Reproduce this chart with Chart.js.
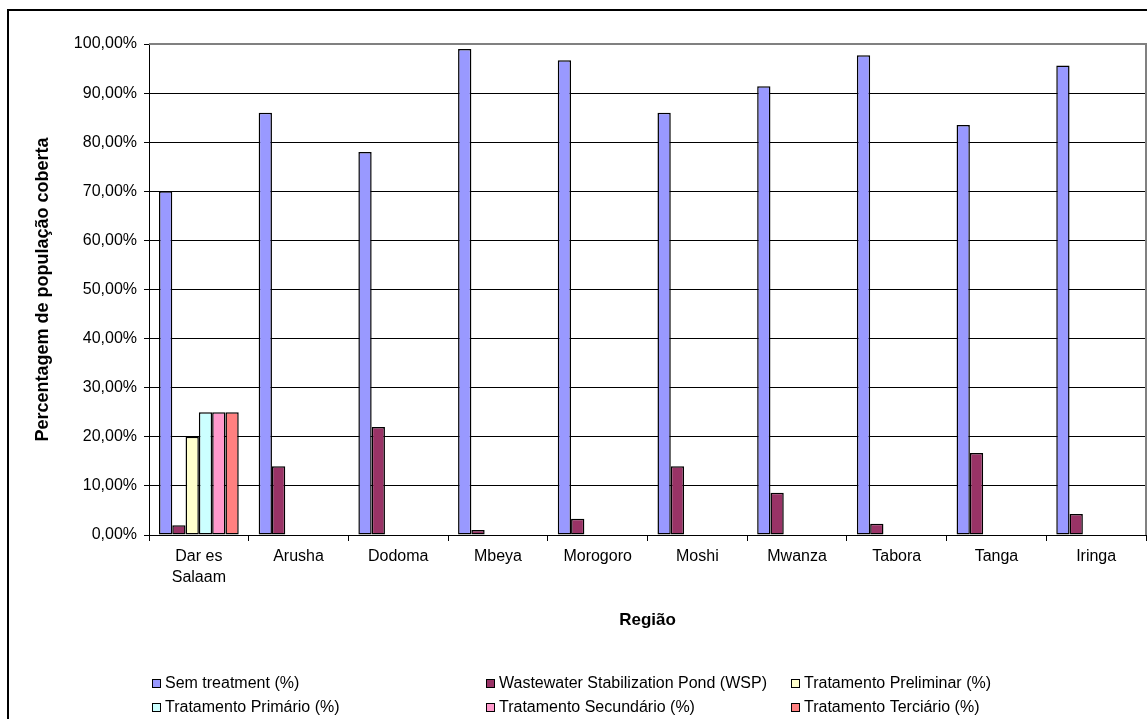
<!DOCTYPE html>
<html>
<head>
<meta charset="utf-8">
<script src="https://cdn.jsdelivr.net/npm/chart.js@4.4.1/dist/chart.umd.min.js"></script>
<style>
  html, body { margin: 0; padding: 0; background: #ffffff; }
  #wrap { width: 1147px; height: 719px; position: relative; }
  canvas { display: block; }
</style>
</head>
<body>
<div id="wrap"><canvas id="chart" width="1147" height="719"></canvas></div>
<script>
// Regions (x categories)
const regions = [["Dar es", "Salaam"], "Arusha", "Dodoma", "Mbeya", "Morogoro", "Moshi", "Mwanza", "Tabora", "Tanga", "Iringa"];

// Share of population covered (%) per treatment type
const semTreatment   = [70, 86, 78, 99, 96.7, 86, 91.4, 97.7, 83.5, 95.6];
const wspPond        = [2, 14, 22, 1, 3.3, 14, 8.6, 2.3, 16.7, 4.3];
const preliminar     = [20, null, null, null, null, null, null, null, null, null];
const primario       = [25, null, null, null, null, null, null, null, null, null];
const secundario     = [25, null, null, null, null, null, null, null, null, null];
const terciario      = [25, null, null, null, null, null, null, null, null, null];

// Series names
const seriesNames = [
  "Sem treatment (%)",
  "Wastewater Stabilization Pond (WSP)",
  "Tratamento Preliminar (%)",
  "Tratamento Primário (%)",
  "Tratamento Secundário (%)",
  "Tratamento Terciário (%)"
];

// y-axis tick values
const yTicks = [0, 10, 20, 30, 40, 50, 60, 70, 80, 90, 100];

const seriesColors = ["#9999FF", "#993366", "#FFFFCC", "#CCFFFF", "#FF99CC", "#FF8080"];
const seriesData = [semTreatment, wspPond, preliminar, primario, secundario, terciario];

const FONT = "'Liberation Sans', Arial, sans-serif";

// Outer frame, plot-area border and the two-row legend
const framePlugin = {
  id: 'frame',
  beforeDraw(chart) {
    const ctx = chart.ctx;
    ctx.save();
    ctx.fillStyle = '#ffffff';
    ctx.fillRect(0, 0, chart.width, chart.height);
    ctx.strokeStyle = '#000000';
    ctx.lineWidth = 2;
    ctx.strokeRect(8, 10, chart.width + 20, chart.height + 20);
    ctx.restore();
  },
  beforeDatasetsDraw(chart) {
    const { ctx, chartArea: a } = chart;
    ctx.save();
    ctx.strokeStyle = '#808080';
    ctx.lineWidth = 2;
    ctx.beginPath();
    ctx.moveTo(a.left, a.top);
    ctx.lineTo(a.right, a.top);
    ctx.lineTo(a.right, a.bottom);
    ctx.stroke();
    ctx.restore();
  },
  afterDraw(chart) {
    const ctx = chart.ctx;
    const cols = [152, 486, 791];
    const rows = [683, 707];
    ctx.save();
    ctx.font = '16px ' + FONT;
    ctx.textBaseline = 'middle';
    ctx.textAlign = 'left';
    chart.data.datasets.forEach((ds, i) => {
      const x = cols[i % 3];
      const y = rows[Math.floor(i / 3)];
      ctx.fillStyle = ds.backgroundColor;
      ctx.fillRect(x, y - 4, 9, 9);
      ctx.strokeStyle = '#000000';
      ctx.lineWidth = 1;
      ctx.strokeRect(x + 0.5, y - 3.5, 8, 8);
      ctx.fillStyle = '#000000';
      ctx.fillText(ds.label, x + 13, y + 1);
    });
    ctx.restore();
  }
};

new Chart(document.getElementById('chart'), {
  type: 'bar',
  data: {
    labels: regions,
    datasets: seriesData.map((d, i) => ({
      label: seriesNames[i],
      data: d,
      backgroundColor: seriesColors[i],
      borderColor: '#000000',
      borderWidth: 1.5,
      borderSkipped: false,
      categoryPercentage: 0.8,
      barPercentage: 1.0
    }))
  },
  options: {
    responsive: false,
    animation: false,
    devicePixelRatio: 1,
    layout: { padding: { left: 0, top: 44, right: 1, bottom: 0 } },
    plugins: {
      legend: { display: false },
      tooltip: { enabled: false }
    },
    scales: {
      x: {
        offset: true,
        grid: {
          display: true,
          offset: true,
          drawOnChartArea: false,
          drawTicks: true,
          tickLength: 6,
          color: '#000000',
          lineWidth: 1
        },
        border: { display: true, color: '#000000', width: 1 },
        ticks: {
          color: '#000000',
          font: { family: FONT, size: 16, lineHeight: 1.3 },
          padding: 5,
          maxRotation: 0,
          autoSkip: false
        },
        title: {
          display: true,
          text: 'Região',
          color: '#000000',
          font: { family: FONT, size: 17, weight: 'bold', lineHeight: 1.2 },
          padding: { top: 0, bottom: 88 }
        },
        afterFit(scale) { scale.height = 184; }
      },
      y: {
        min: 0,
        max: 100,
        afterBuildTicks(scale) { scale.ticks = yTicks.map(v => ({ value: v })); },
        grid: {
          color: '#000000',
          lineWidth: 1,
          drawTicks: true,
          tickLength: 5
        },
        border: { display: true, color: '#000000', width: 1 },
        ticks: {
          color: '#000000',
          font: { family: FONT, size: 16 },
          padding: 7,
          callback: v => v.toFixed(2).replace('.', ',') + '%'
        },
        title: {
          display: true,
          text: 'Percentagem de população coberta',
          color: '#000000',
          font: { family: FONT, size: 18, weight: 'bold', lineHeight: 1.2 },
          padding: { top: 32, bottom: 0 }
        },
        afterFit(scale) { scale.width = 149; }
      }
    }
  },
  plugins: [framePlugin]
});
</script>
</body>
</html>
